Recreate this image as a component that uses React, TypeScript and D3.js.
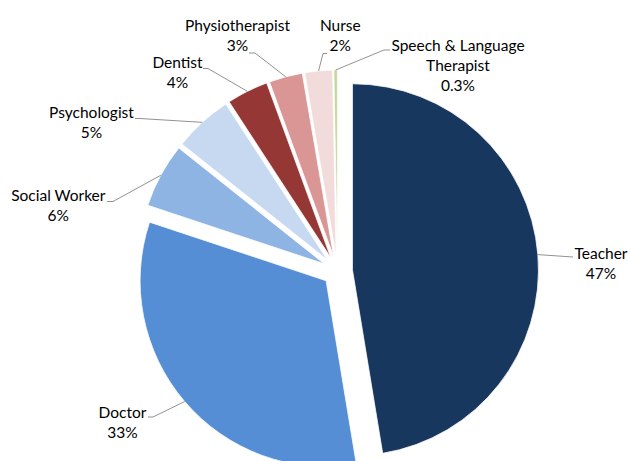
import React from 'react';
import * as d3 from 'd3';

// ---- data ----
const categories = [
  'Teacher',
  'Doctor',
  'Social Worker',
  'Psychologist',
  'Dentist',
  'Physiotherapist',
  'Nurse',
  'Speech & Language Therapist',
];
const values = [47.4, 32.7, 5.6, 5.1, 3.6, 2.9, 2.4, 0.3];
const labelLines = [
  ['Teacher'],
  ['Doctor'],
  ['Social Worker'],
  ['Psychologist'],
  ['Dentist'],
  ['Physiotherapist'],
  ['Nurse'],
  ['Speech & Language', 'Therapist'],
];
const colors = ['#17375E', '#558ED5', '#8EB4E3', '#C6D9F1', '#953735', '#D99694', '#F2DCDB', '#C3D69B'];

// ---- layout ----
const W = 628;
const H = 461;
const CX = 337.5;
const CY = 271;
const R = 186;
const EXPLODE = 15;
const LINE_H = 20;
// label anchor (center x, first baseline y) and leader start / elbow points
const labelLayout: { x: number; y: number; lead: number[][] }[] = [
  { x: 601, y: 259, lead: [[573, 257]] },
  { x: 122.5, y: 418.3, lead: [[148, 417], [153, 417]] },
  { x: 58.3, y: 200.7, lead: [[107, 201.5], [113, 201.5]] },
  { x: 91.5, y: 118.3, lead: [[135, 118.5], [140, 118.5]] },
  { x: 177.5, y: 68.3, lead: [[203, 68.5], [208, 68.5]] },
  { x: 237.5, y: 30.7, lead: [[249, 53], [255, 53]] },
  { x: 340.3, y: 30.7, lead: [[327, 53.5], [323, 53.5]] },
  { x: 458, y: 50.5, lead: [[390, 50], [384, 50]] },
];

export default function App() {
  const total = d3.sum(values);
  const pie = d3
    .pie<number>()
    .sort(null)
    .startAngle(0)
    .endAngle(2 * Math.PI)
    .value((d) => d);
  const arcs = pie(values);
  const arcGen = d3.arc<d3.PieArcDatum<number>>().innerRadius(0).outerRadius(R);
  const fmtPct = (v: number) => {
    const p = (v / total) * 100;
    return p < 1 ? d3.format('.1f')(p) + '%' : d3.format('.0f')(p) + '%';
  };

  return (
    <svg
      width={W}
      height={H}
      style={{ position: 'absolute', left: 0, top: 0, background: '#fff' }}
      fontFamily="Lato, 'Open Sans', sans-serif"
      fontSize={15.5}
    >
      {arcs.map((a, i) => {
        const mid = (a.startAngle + a.endAngle) / 2;
        const dx = EXPLODE * Math.sin(mid);
        const dy = -EXPLODE * Math.cos(mid);
        return (
          <path
            key={categories[i]}
            d={arcGen(a) || ''}
            transform={`translate(${CX + dx},${CY + dy})`}
            fill={colors[i]}
            stroke="#fff"
            strokeWidth={0.75}
          />
        );
      })}
      {arcs.map((a, i) => {
        const mid = (a.startAngle + a.endAngle) / 2;
        const vx = CX + EXPLODE * Math.sin(mid);
        const vy = CY - EXPLODE * Math.cos(mid);
        const ex = vx + R * Math.sin(mid);
        const ey = vy - R * Math.cos(mid);
        const lay = labelLayout[i];
        const pts = [...lay.lead, [ex, ey]];
        const line = d3.line()(pts as [number, number][]) || '';
        return <path key={'l' + i} d={line} fill="none" stroke="#868686" strokeWidth={0.9} />;
      })}
      {arcs.map((a, i) => {
        const lay = labelLayout[i];
        const lines = [...labelLines[i], fmtPct(values[i])];
        return (
          <text key={'t' + i} textAnchor="middle" fill="#000">
            {lines.map((s, j) => (
              <tspan key={j} x={lay.x} y={lay.y + j * LINE_H}>
                {s}
              </tspan>
            ))}
          </text>
        );
      })}
    </svg>
  );
}
